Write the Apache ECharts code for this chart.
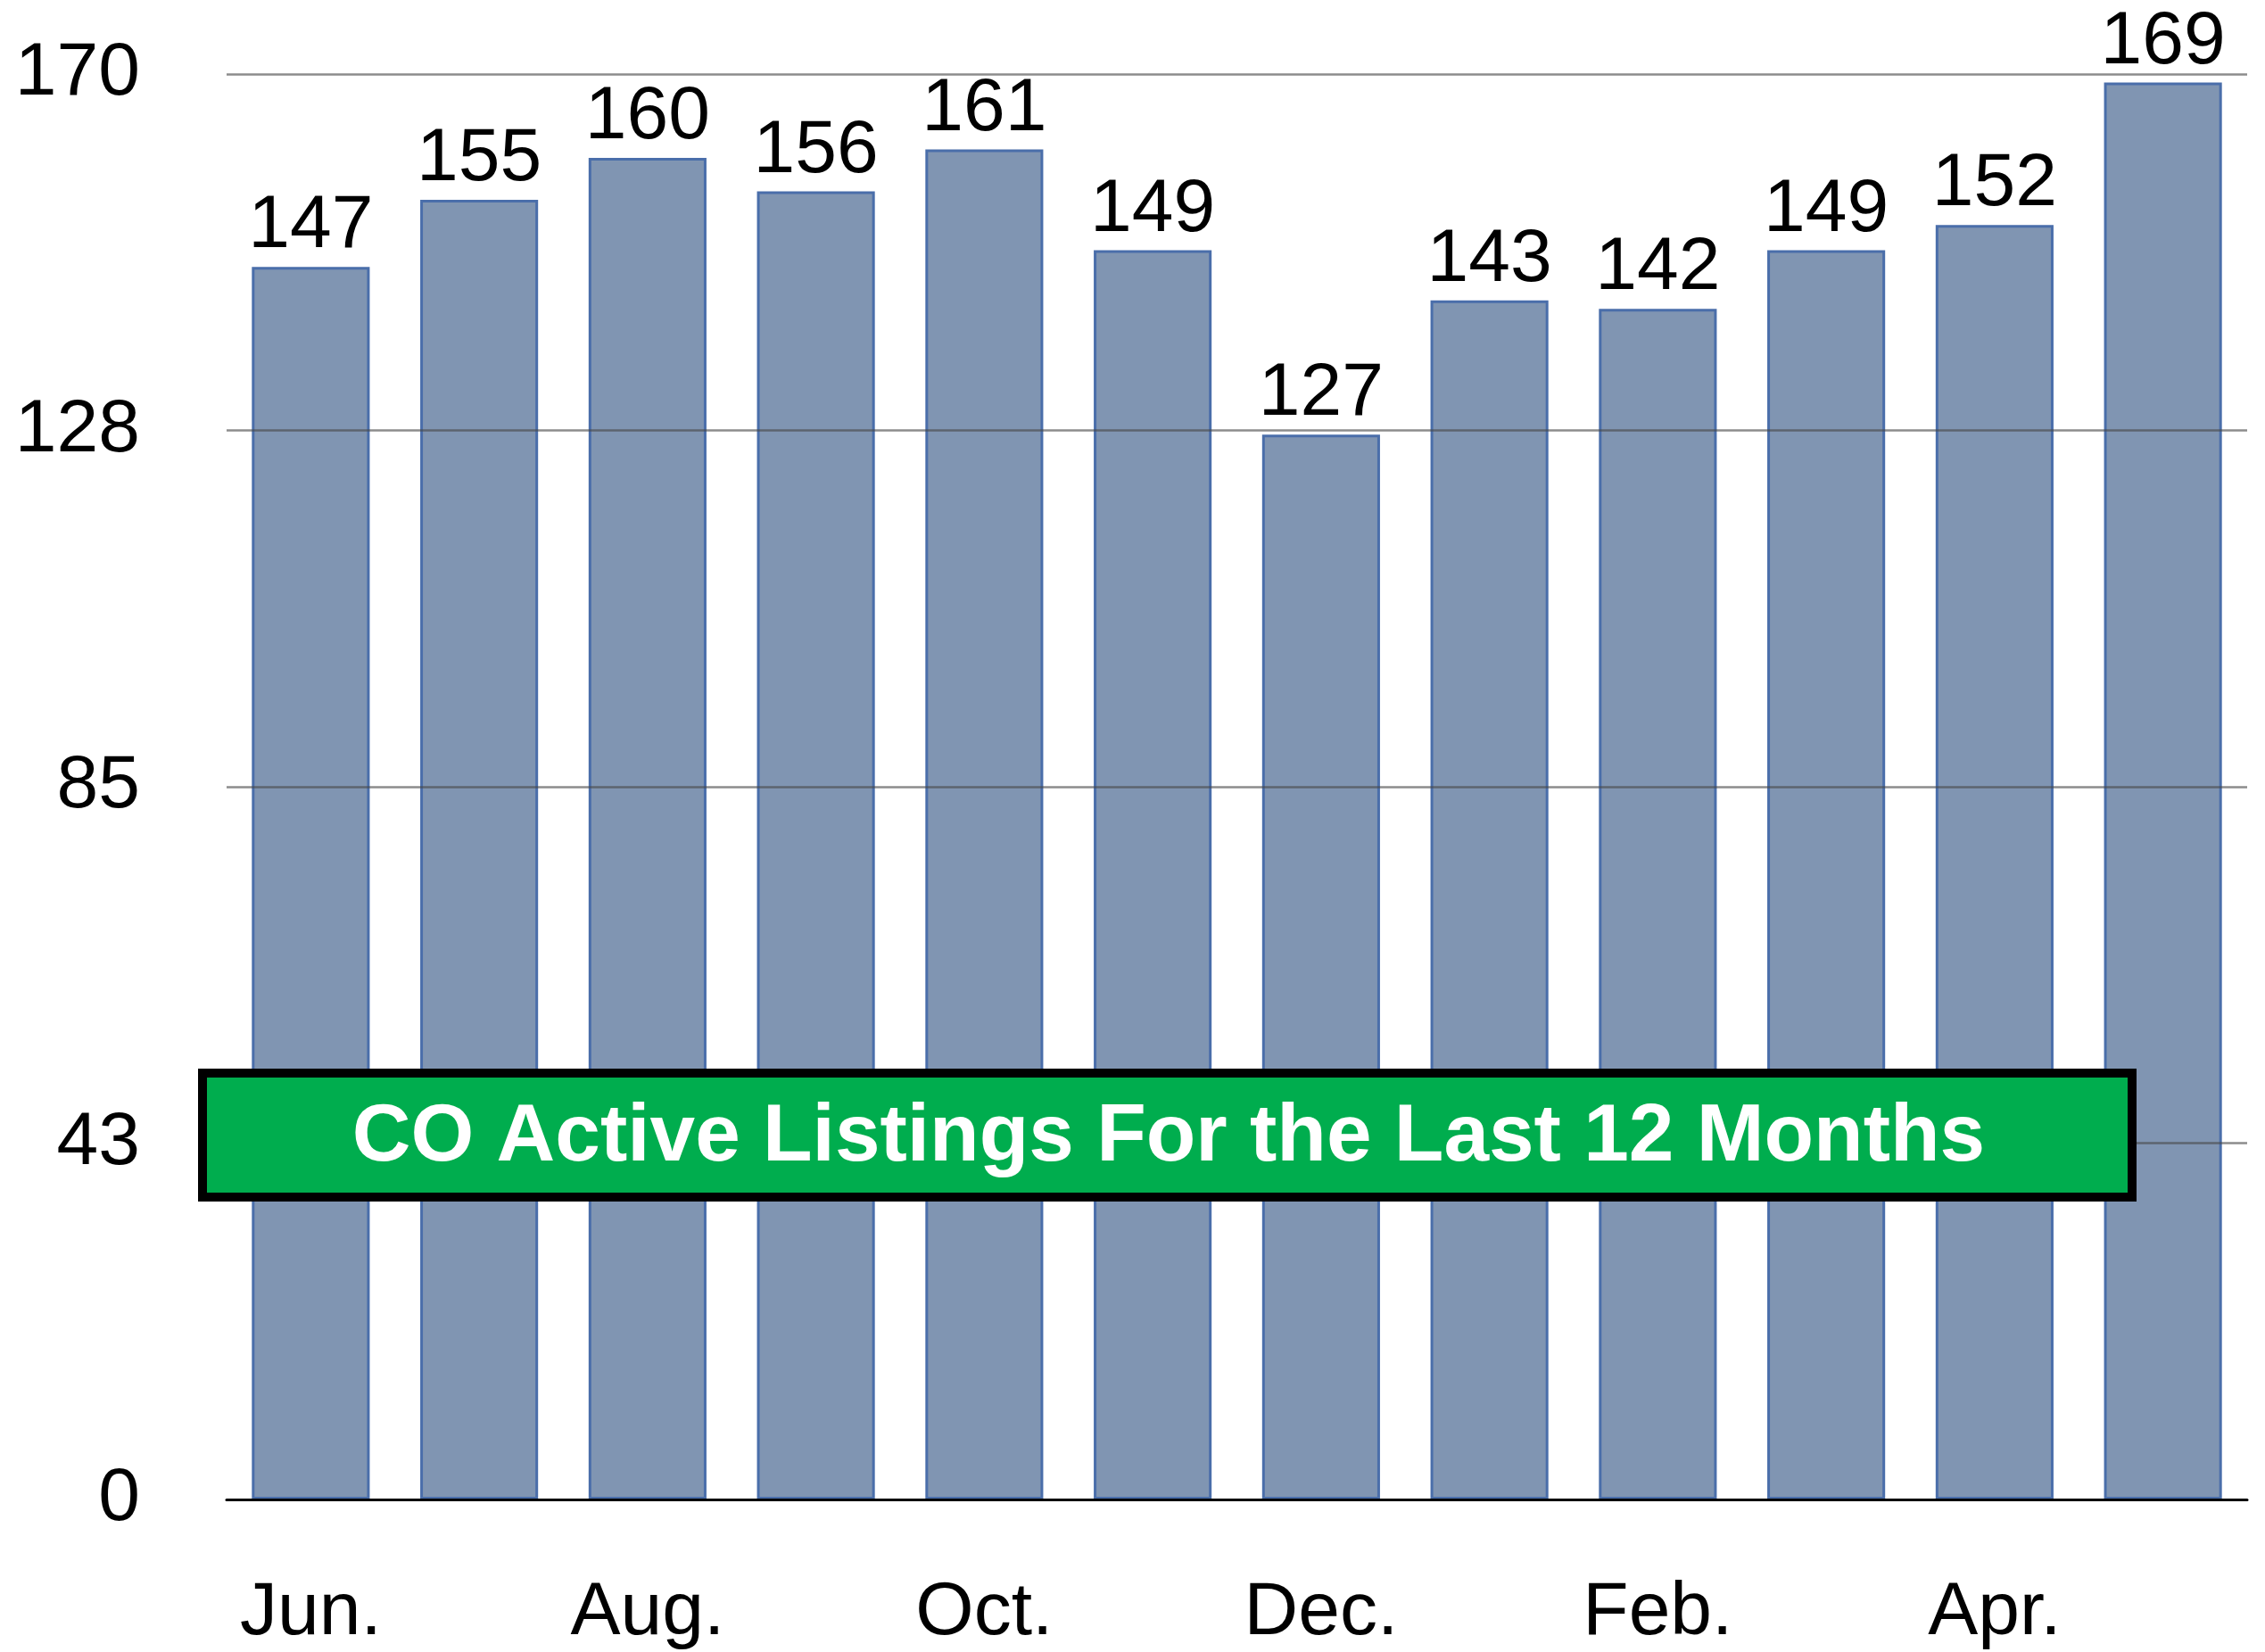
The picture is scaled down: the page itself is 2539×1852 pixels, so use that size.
<!DOCTYPE html>
<html>
<head>
<meta charset="utf-8">
<script src="https://cdn.jsdelivr.net/npm/echarts@6/dist/echarts.min.js"></script>
<style>
html,body{margin:0;padding:0;background:#fff;}
#chart{width:2539px;height:1852px;}
</style>
</head>
<body>
<div id="chart"></div>
<script>
const categories = ['Jun.', 'Jul.', 'Aug.', 'Sep.', 'Oct.', 'Nov.', 'Dec.', 'Jan.', 'Feb.', 'Mar.', 'Apr.', 'May'];
const listings = [147, 155, 160, 156, 161, 149, 127, 143, 142, 149, 152, 169];
const yTicks = [0, 42.5, 85, 127.5, 170];
const titleText = 'CO Active Listings For the Last 12 Months';

const FONT = '"Liberation Sans", Arial, Helvetica, sans-serif';
const chart = echarts.init(document.getElementById('chart'), null, {renderer: 'canvas'});
chart.setOption({
  animation: false,
  backgroundColor: '#ffffff',
  grid: {left: 254, right: 20, top: 83, bottom: 171, containLabel: false},
  xAxis: {
    type: 'category',
    data: categories,
    z: 3,
    axisTick: {show: false},
    axisLine: {show: true, lineStyle: {color: '#000', width: 3}},
    axisLabel: {interval: 1, fontSize: 84, color: '#000', fontFamily: FONT, margin: 86}
  },
  yAxis: {
    type: 'value',
    min: yTicks[0],
    max: yTicks[yTicks.length - 1],
    interval: yTicks[1] - yTicks[0],
    z: 3,
    axisLine: {show: false},
    axisTick: {show: false},
    splitLine: {show: true, lineStyle: {color: 'rgba(70,70,70,0.62)', width: 2.5}},
    axisLabel: {fontSize: 84, color: '#000', fontFamily: FONT, margin: 97, padding: [10, 0, 0, 0],
      formatter: v => String(Math.round(v))}
  },
  series: [{
    type: 'bar',
    data: listings,
    barCategoryGap: '30%',
    itemStyle: {color: '#8095b2', borderColor: '#4a6eaa', borderWidth: 3},
    label: {show: true, position: 'top', distance: 3, fontSize: 84, color: '#000', fontFamily: FONT}
  }],
  graphic: [{
    type: 'rect',
    z: 100,
    zlevel: 1,
    shape: {x: 227, y: 1203, width: 2163, height: 139},
    style: {fill: '#00ad4e', stroke: '#000', lineWidth: 10}
  }, {
    type: 'text',
    z: 101,
    zlevel: 1,
    x: 1310,
    y: 1276,
    style: {text: titleText, fill: '#fff', font: 'bold 91px ' + FONT, align: 'center', verticalAlign: 'middle'}
  }]
});
</script>
</body>
</html>
